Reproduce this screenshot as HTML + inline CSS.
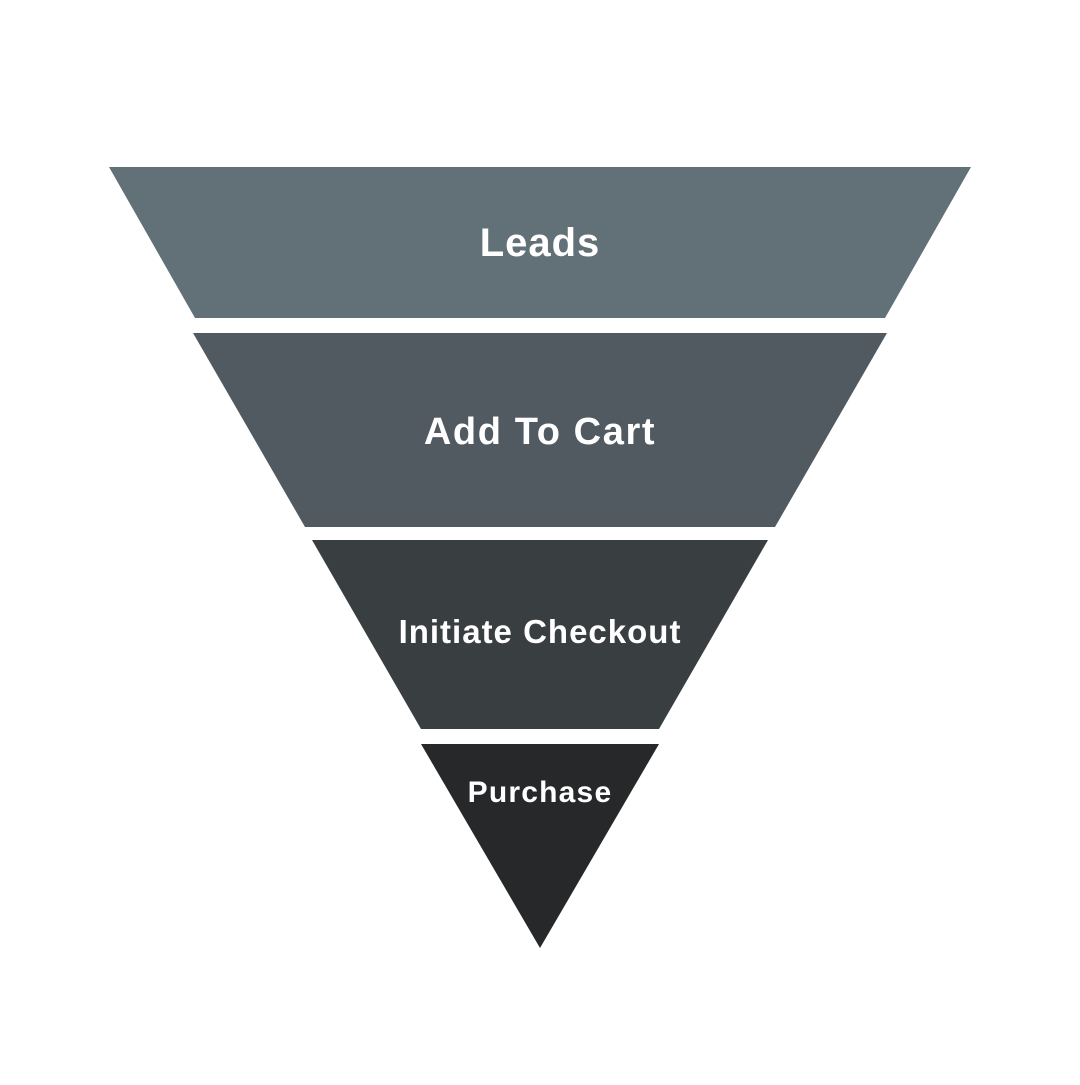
<!DOCTYPE html>
<html><head><meta charset="utf-8"><style>html,body{margin:0;padding:0;background:#fff}</style></head>
<body>
<svg width="1080" height="1080" viewBox="0 0 1080 1080" xmlns="http://www.w3.org/2000/svg" font-family="Liberation Sans, sans-serif" font-weight="bold" fill="#fff">
<rect width="1080" height="1080" fill="#fff"/>
<polygon points="109,167 971,167 885,318 195,318" fill="#627077"/>
<polygon points="193,333 887,333 775,527 305,527" fill="#515961"/>
<polygon points="312,540 768,540 659,729 421,729" fill="#393e41"/>
<polygon points="421,744 659,744 540,948" fill="#272829"/>
<text x="540" y="256" font-size="40" text-anchor="middle" letter-spacing="1" fill="#fff">Leads</text>
<text x="540" y="444" font-size="38" text-anchor="middle" letter-spacing="1.6" fill="#fff">Add To Cart</text>
<text x="540" y="643" font-size="33" text-anchor="middle" letter-spacing="1" fill="#fff">Initiate Checkout</text>
<text x="540" y="802" font-size="30" text-anchor="middle" letter-spacing="1.2" fill="#fff">Purchase</text>
</svg>
</body></html>
